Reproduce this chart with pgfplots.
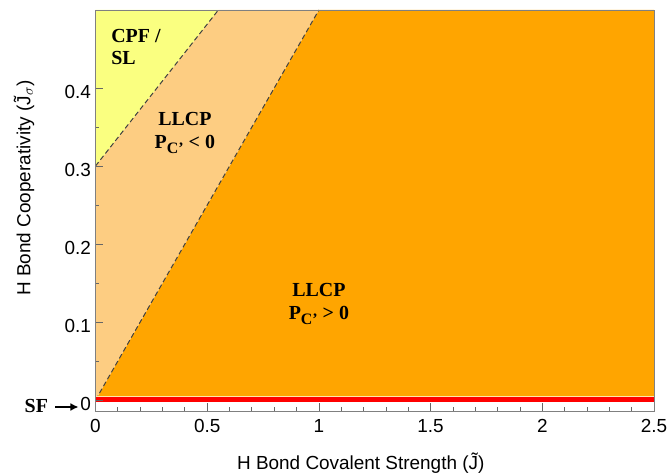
\documentclass[border=0pt]{standalone}
\usepackage{pgfplots}
\pgfplotsset{compat=1.18}
\usepackage{fontspec}
\setmainfont{Liberation Sans}
\newfontfamily\serifb{Liberation Serif}
\usetikzlibrary{calc,arrows.meta}
\definecolor{cyel}{RGB}{250,255,128}
\definecolor{clor}{RGB}{253,205,130}
\definecolor{cdor}{RGB}{255,165,0}
\definecolor{cred}{RGB}{255,0,0}
\definecolor{cline}{RGB}{255,232,170}
\begin{document}
\begin{tikzpicture}
\begin{axis}[
  name=ax,
  scale only axis, width=558.5bp, height=401bp,
  xmin=0, xmax=2.5, ymin=-0.014, ymax=0.5,
  xtick={0,0.5,1,1.5,2,2.5}, ytick={0,0.1,0.2,0.3,0.4},
  xticklabels={0,0.5,1,1.5,2,2.5}, yticklabels={0,0.1,0.2,0.3,0.4},
  minor x tick num=4, minor y tick num=1,
  xtick pos=bottom, ytick pos=left,
  tick align=inside, major tick length=8bp, minor tick length=4bp,
  axis line style={gray}, tick style={gray!80!black, line width=0.8bp},
  axis on top,
  /pgf/number format/assume math mode=true,
  font=\fontsize{19}{22}\selectfont,
  xticklabel style={yshift=-5bp},
  yticklabel style={xshift=-1bp, yshift=-4bp},
  xlabel={H Bond Covalent Strength (\~{J})},
  ylabel={H Bond Cooperativity (\~{J}$_{\sigma}$)},
  xlabel style={at={(rel axis cs:0.475,-0.13)}, anchor=center},
  ylabel style={at={(rel axis cs:-0.128,0.556)}, anchor=center},
]
% regions
\addplot[draw=none, fill=cdor] coordinates {(0,0) (1.0,0.5) (2.5,0.5) (2.5,0) (0,0)};
\addplot[draw=none, fill=clor] coordinates {(0,0) (0,0.3) (0.55,0.5) (1.0,0.5) (0,0)};
\addplot[draw=none, fill=cyel] coordinates {(0,0.3) (0,0.5) (0.55,0.5) (0,0.3)};
\addplot[draw=none, fill=white] coordinates {(0,-0.02) (2.5,-0.02) (2.5,0) (0,0)};
% boundaries
\addplot[black!75, line width=1bp, dash pattern=on 5bp off 3bp] coordinates {(0,0) (1.0,0.5)};
\addplot[black!75, line width=1bp, dash pattern=on 5bp off 3bp] coordinates {(0,0.3) (0.55,0.5)};
% SF line
\addplot[draw=none, fill=cred] coordinates {(0,-0.003) (2.5,-0.003) (2.5,0.0045) (0,0.0045)};
\addplot[cline, line width=1bp] coordinates {(0,0.005) (2.5,0.005)};
% labels
\node[font=\serifb\bfseries\fontsize{20}{22}\selectfont, align=left, anchor=west] at (axis cs:0.055,0.453) {CPF /\\SL};
\node[font=\serifb\bfseries\fontsize{20}{23}\selectfont, align=center] at (axis cs:0.40,0.342) {LLCP\\P\raisebox{-0.6ex}{\fontsize{16}{16}\selectfont C’} {<} 0};
\node[font=\serifb\bfseries\fontsize{20}{23}\selectfont, align=center] at (axis cs:1.0,0.123) {LLCP\\P\raisebox{-0.6ex}{\fontsize{16}{16}\selectfont C’} {>} 0};
\end{axis}
\node[font=\serifb\bfseries\fontsize{20}{22}\selectfont, anchor=east] at ($(ax.south west)+(-44bp,5bp)$) {SF};
\draw[-{Latex[length=8bp,width=8bp]}, line width=2.4bp] ($(ax.south west)+(-40bp,4bp)$) -- ($(ax.south west)+(-17bp,4bp)$);
\pgfresetboundingbox
\useasboundingbox ($(ax.south west)+(-95.5bp,-63bp)$) rectangle ($(ax.north east)+(16bp,10bp)$);
\end{tikzpicture}
\end{document}
